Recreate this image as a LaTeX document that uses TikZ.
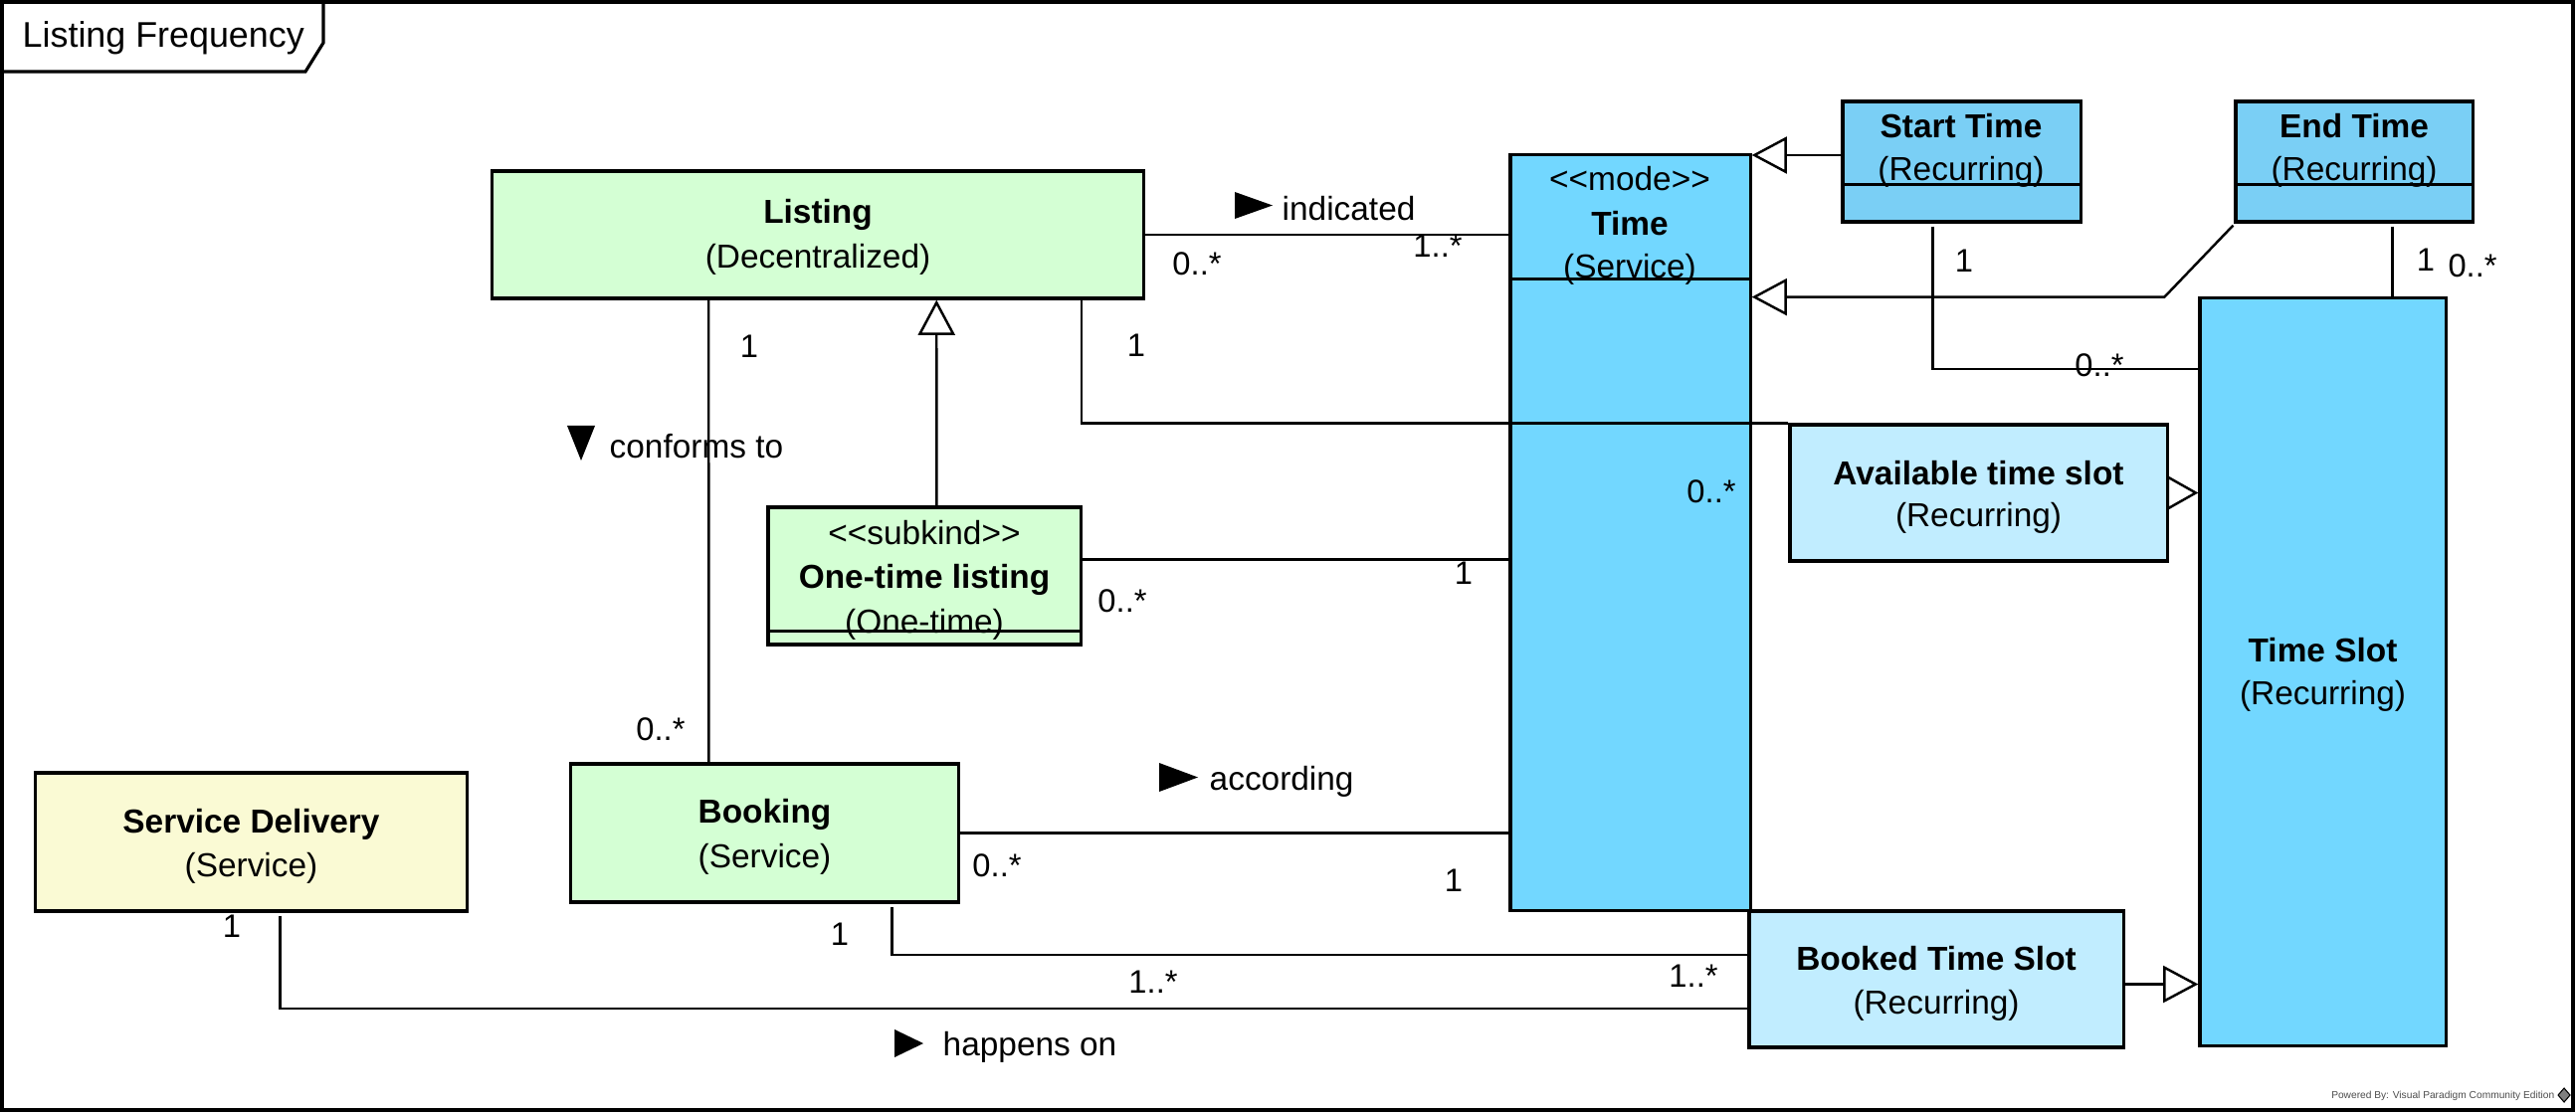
\documentclass[tikz,border=0pt]{standalone}
\usepackage{fontspec}
\setmainfont{Liberation Sans}
\usetikzlibrary{arrows.meta,calc}
\definecolor{kindgreen}{HTML}{D4FFD4}
\definecolor{servyellow}{HTML}{FAFAD4}
\definecolor{modeblue}{HTML}{72D7FF}
\definecolor{recblue}{HTML}{7ACFF5}
\definecolor{slotblue}{HTML}{C1EDFF}
\newcommand{\lsq}{<\kern0pt<}
\newcommand{\rsq}{>\kern0pt>}
\begin{document}
\begin{tikzpicture}[x=0.01cm,y=-0.01cm,
  box/.style={draw=black,line width=0.9pt,rectangle,inner sep=0pt},
  conn/.style={draw=black,line width=0.7pt},
  gen/.style={conn,-{Triangle[open,length=10pt,width=10.5pt]}},
  lbl/.style={font=\fontsize{9.5}{11}\selectfont,inner sep=0pt},
  ttl/.style={font=\bfseries\fontsize{9.5}{11}\selectfont,inner sep=0pt},
  mult/.style={font=\fontsize{9.3}{11}\selectfont,inner sep=0pt},
]
\useasboundingbox (0,0) rectangle (2589,1119);
% frame
\draw[line width=0.9pt] (2,2) rectangle (2586,1116);
\draw[line width=0.9pt] (2,72) -- (307,72) -- (325,43) -- (325,2);
\node[font=\fontsize{10.2}{12}\selectfont,anchor=west,inner sep=0pt] (title) at (22,38) {Listing Frequency};

% boxes
\node[box,fill=kindgreen,minimum width=6.54cm,minimum height=1.28cm] (listing) at (822,236) {};
\node[box,fill=modeblue,minimum width=2.41cm,minimum height=7.59cm] (time) at (1638.5,535.5) {};
\node[box,fill=recblue,minimum width=2.39cm,minimum height=1.21cm] (start) at (1971.5,162.5) {};
\node[box,fill=recblue,minimum width=2.38cm,minimum height=1.21cm] (endt) at (2366,162.5) {};
\node[box,fill=modeblue,minimum width=2.47cm,minimum height=7.51cm] (slot) at (2334.5,675.5) {};
\node[box,fill=slotblue,minimum width=3.79cm,minimum height=1.37cm] (avail) at (1988.5,495.5) {};
\node[box,fill=slotblue,minimum width=3.76cm,minimum height=1.37cm] (booked) at (1946,984.5) {};
\node[box,fill=kindgreen,minimum width=3.14cm,minimum height=1.38cm] (onetime) at (929,579) {};
\node[box,fill=kindgreen,minimum width=3.89cm,minimum height=1.39cm] (booking) at (768.5,837.5) {};
\node[box,fill=servyellow,minimum width=4.33cm,minimum height=1.39cm] (sd) at (252.5,846.5) {};

% compartment dividers
\draw[line width=0.9pt] ($(time.north west)+(0,126)$) -- ($(time.north east)+(0,126)$);
\draw[line width=0.9pt] ($(start.north west)+(0,85)$) -- ($(start.north east)+(0,85)$);
\draw[line width=0.9pt] ($(endt.north west)+(0,85)$) -- ($(endt.north east)+(0,85)$);
\draw[line width=0.9pt] ($(onetime.north west)+(0,126)$) -- ($(onetime.north east)+(0,126)$);

% box texts
\node[ttl] (listingN) at ($(listing.center)+(0,-20)$) {Listing};
\node[lbl] (listingT) at ($(listing.center)+(0,25)$) {(Decentralized)};
\node[ttl] (bookingN) at ($(booking.center)+(0,-19)$) {Booking};
\node[lbl] (bookingT) at ($(booking.center)+(0,26)$) {(Service)};
\node[ttl] (sdN) at ($(sd.center)+(0,-18)$) {Service Delivery};
\node[lbl] (sdT) at ($(sd.center)+(0,26.5)$) {(Service)};
\node[ttl] (availN) at ($(avail.center)+(0,-20)$) {Available time slot};
\node[lbl] (availT) at ($(avail.center)+(0,25)$) {(Recurring)};
\node[ttl] (bookedN) at ($(booked.center)+(0,-20.5)$) {Booked Time Slot};
\node[lbl] (bookedT) at ($(booked.center)+(0,26)$) {(Recurring)};
\node[ttl] (slotN) at ($(slot.center)+(0,-21.5)$) {Time Slot};
\node[lbl] (slotT) at ($(slot.center)+(0,24)$) {(Recurring)};
\node[lbl] (timeS) at (1638,180) {\lsq mode\rsq};
\node[ttl] (timeN) at (1638,225) {Time};
\node[lbl] (timeT) at (1638,271) {(Service)};
\node[ttl] (startN) at (1971,127) {Start Time};
\node[lbl] (startT) at (1971,173) {(Recurring)};
\node[ttl] (endN) at (2366,127) {End Time};
\node[lbl] (endT) at (2366,173) {(Recurring)};
\node[lbl] (oneS) at (929,536) {\lsq subkind\rsq};
\node[ttl] (oneN) at (929,583) {One-time listing};
\node[lbl] (oneT) at (929,628) {(One-time)};

% connectors
\draw[conn] (listing.east) -- (listing.east -| time.west);
\draw[conn] ($(listing.south west)+(219,0)$) -- ($(booking.north west)+(140,0)$);
\draw[gen] ($(onetime.north west)+(171,0)$) -- ($(listing.south west)+(448,0)$);
\draw[conn] ($(listing.south west)+(594,0)$) |- (avail.north west);
\coordinate (c5) at ($(onetime.north east)+(0,54)$);
\draw[conn] (c5) -- (c5 -| time.west);
\draw[conn] (booking.east) -- (booking.east -| time.west);
\draw[conn] ($(booking.south west)+(324,3)$) |- ($(booked.west)+(0,-24.5)$);
\draw[conn] ($(sd.south west)+(247,3)$) |- ($(booked.west)+(0,29.5)$);
\coordinate (c9) at ($(booked.east)+(0,5)$);
\draw[gen] (c9) -- (c9 -| slot.west);
\draw[conn,-{Triangle[open,length=9pt,width=10pt]}] (avail.east) -- (avail.east -| slot.west);
\coordinate (c11) at ($(start.west)+(0,-6.5)$);
\draw[gen] (c11) -- (c11 -| time.east);
\coordinate (c12) at ($(endt.south west)+(-70,74)$);
\draw[gen] ($(endt.south west)+(-1,2)$) -- (c12) -- (c12 -| time.east);
\draw[conn] ($(start.south west)+(92,3)$) |- ($(slot.north west)+(0,73)$);
\coordinate (c14) at ($(endt.south west)+(159,3)$);
\draw[conn] (c14) -- (c14 |- slot.north);

% direction markers and association names
\fill (1241,193) -- (1279,206.5) -- (1241,220) -- cycle;
\node[lbl,anchor=west] (nind) at (1288,210) {indicated};
\fill (570,428) -- (598,428) -- (584,463) -- cycle;
\node[lbl,anchor=west] (ncon) at (612,449) {conforms to};
\fill (1165,767) -- (1204,781.5) -- (1165,796) -- cycle;
\node[lbl,anchor=west] (nacc) at (1215,786) {according};
\fill (899,1035) -- (928,1049) -- (899,1063) -- cycle;
\node[lbl,anchor=west] (nhap) at (947,1053) {happens on};

% multiplicities
\node[mult] (m1) at (1203,265) {0..*};
\node[mult] (m2) at (1445,247) {1..*};
\node[mult] (m3) at (753,348) {1};
\node[mult] (m4) at (664,733) {0..*};
\node[mult] (m5) at (1142,347) {1};
\node[mult] (m6) at (1720,494) {0..*};
\node[mult] (m7) at (1128,604) {0..*};
\node[mult] (m8) at (1471,576) {1};
\node[mult] (m9) at (1002,870) {0..*};
\node[mult] (m10) at (1461,885) {1};
\node[mult] (m11) at (844,939) {1};
\node[mult] (m12) at (1702,981) {1..*};
\node[mult] (m13) at (233,931) {1};
\node[mult] (m14) at (1159,987) {1..*};
\node[mult] (m15) at (1974,262) {1};
\node[mult] (m16) at (2110,367) {0..*};
\node[mult] (m17) at (2438,261) {1};
\node[mult] (m18) at (2485,267) {0..*};

% watermark
\node[font=\fontsize{2.9}{4}\selectfont,anchor=east,inner sep=0pt,text=black!70] (pw) at (2568,1102) {Powered By: Visual Paradigm Community Edition};
\draw[line width=0.3pt,fill=black!50] (2577,1094) -- (2583,1101) -- (2577,1108) -- (2571,1101) -- cycle;
\end{tikzpicture}
\end{document}
